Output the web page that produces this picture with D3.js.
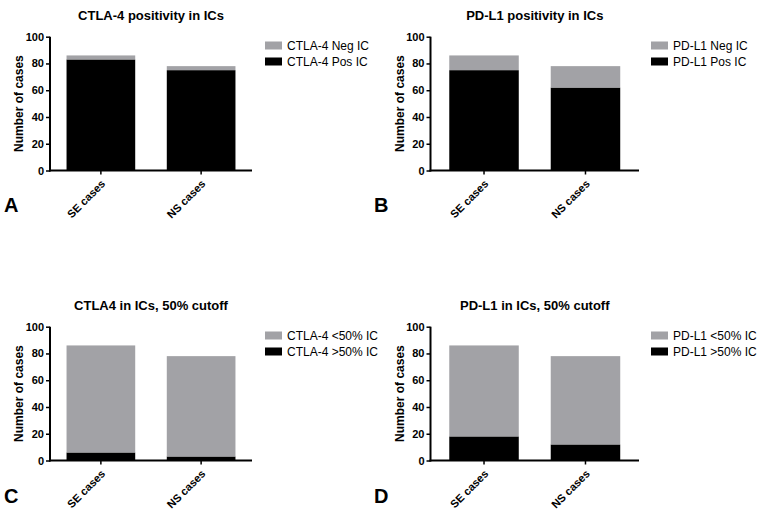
<!DOCTYPE html>
<html>
<head>
<meta charset="utf-8">
<script src="https://cdn.jsdelivr.net/npm/d3@7"></script>
<style>
  body { margin: 0; background: #fff; }
  svg { display: block; font-family: Arial, "Liberation Sans", sans-serif; }
</style>
</head>
<body>
<svg id="chart" width="762" height="520"></svg>
<script>
// ---- data ----
const categories = ["SE cases", "NS cases"];
const yTicks = [0, 20, 40, 60, 80, 100];

const panelTitles = ["CTLA-4 positivity in ICs", "PD-L1 positivity in ICs", "CTLA4 in ICs, 50% cutoff", "PD-L1 in ICs, 50% cutoff"];
const panelLetters = ["A", "B", "C", "D"];

// bottom segment (black) and top segment (grey) per category
const ctla4Pos = [83, 75];
const ctla4Neg = [3, 3];
const pdl1Pos = [75, 62];
const pdl1Neg = [11, 16];
const ctla4Above50 = [6, 3];
const ctla4Below50 = [80, 75];
const pdl1Above50 = [18, 12];
const pdl1Below50 = [68, 66];

const legendTop = ["CTLA-4 Neg IC", "PD-L1 Neg IC", "CTLA-4 <50% IC", "PD-L1 <50% IC"];
const legendBottom = ["CTLA-4 Pos IC", "PD-L1 Pos IC", "CTLA-4 >50% IC", "PD-L1 >50% IC"];

const bottomSeries = [ctla4Pos, pdl1Pos, ctla4Above50, pdl1Above50];
const topSeries = [ctla4Neg, pdl1Neg, ctla4Below50, pdl1Below50];

// ---- layout ----
const BLACK = "#000000", GREY = "#a2a2a6";
const layouts = [
  { x0: 50, x1: 252, yTop: 36.7, yBot: 170.5, titleY: 20, letterX: 4, letterY: 212, legX: 265, legY: 41.5 },
  { x0: 430.5, x1: 639, yTop: 36.7, yBot: 170.5, titleY: 20, letterX: 374, letterY: 212, legX: 651, legY: 41.5 },
  { x0: 50, x1: 252, yTop: 326.7, yBot: 460.5, titleY: 310, letterX: 4, letterY: 503, legX: 265, legY: 331.5 },
  { x0: 430.5, x1: 639, yTop: 326.7, yBot: 460.5, titleY: 310, letterX: 374, letterY: 503, legX: 651, legY: 331.5 }
];

const svg = d3.select("#chart");

layouts.forEach((L, i) => {
  const g = svg.append("g");
  const x = d3.scaleBand().domain(categories).range([L.x0, L.x1])
    .paddingInner(0.315).paddingOuter(i % 2 === 0 ? 0.165 : 0.185);
  const y = d3.scaleLinear().domain([0, 100]).range([L.yBot, L.yTop]);

  const stackData = categories.map((c, k) => ({ cat: c, bottom: bottomSeries[i][k], top: topSeries[i][k] }));
  const stacked = d3.stack().keys(["bottom", "top"])(stackData);
  const colors = { bottom: BLACK, top: GREY };

  stacked.forEach(layer => {
    g.append("g").selectAll("rect").data(layer).join("rect")
      .attr("x", d => x(d.data.cat))
      .attr("width", x.bandwidth())
      .attr("y", d => y(d[1]))
      .attr("height", d => y(d[0]) - y(d[1]))
      .attr("fill", colors[layer.key]);
  });

  // y axis
  const yAxis = g.append("g").attr("transform", `translate(${L.x0},0)`)
    .call(d3.axisLeft(y).tickValues(yTicks).tickSize(4).tickPadding(2));
  yAxis.select(".domain").attr("stroke-width", 2).attr("d", `M0,${L.yTop}V${L.yBot + 1}`);
  yAxis.selectAll(".tick line").attr("stroke-width", 1.5);
  yAxis.selectAll("text").attr("font-size", 11).attr("font-weight", "bold").attr("fill", "#000");

  // x axis
  const xAxis = g.append("g").attr("transform", `translate(0,${L.yBot})`)
    .call(d3.axisBottom(x).tickSize(4).tickSizeOuter(0));
  xAxis.select(".domain").attr("stroke-width", 2).attr("d", `M${L.x0 - 1},0H${L.x1}`);
  xAxis.selectAll(".tick line").attr("stroke-width", 1.5);
  xAxis.selectAll("text")
    .attr("font-size", 11).attr("font-weight", "bold").attr("fill", "#000")
    .attr("text-anchor", "end")
    .attr("x", 0).attr("y", 0).attr("dy", 0)
    .attr("transform", "translate(5,14) rotate(-45)");
  yAxis.attr("font-family", null); xAxis.attr("font-family", null);

  // y label
  g.append("text")
    .attr("transform", `translate(${L.x0 - 27},${(L.yTop + L.yBot) / 2}) rotate(-90)`)
    .attr("text-anchor", "middle").attr("font-size", 12).attr("font-weight", "bold")
    .text("Number of cases");

  // title
  g.append("text")
    .attr("x", (L.x0 + L.x1) / 2).attr("y", L.titleY)
    .attr("text-anchor", "middle").attr("font-size", 13).attr("font-weight", "bold")
    .text(panelTitles[i]);

  // legend
  const legItems = [{ label: legendTop[i], color: GREY }, { label: legendBottom[i], color: BLACK }];
  legItems.forEach((it, j) => {
    g.append("rect").attr("x", L.legX).attr("y", L.legY + j * 16)
      .attr("width", 17).attr("height", 8).attr("fill", it.color);
    g.append("text").attr("x", L.legX + 22).attr("y", L.legY + j * 16 + 8.5)
      .attr("font-size", 12).text(it.label);
  });

  // panel letter
  g.append("text").attr("x", L.letterX).attr("y", L.letterY)
    .attr("font-size", 20).attr("font-weight", "bold").text(panelLetters[i]);
});
</script>
</body>
</html>
